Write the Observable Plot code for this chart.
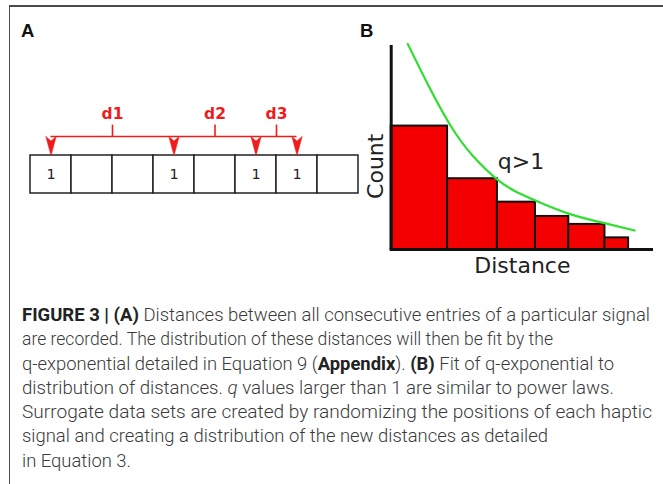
<!DOCTYPE html>
<html>
<head>
<meta charset="utf-8">
<script src="https://cdn.jsdelivr.net/npm/d3@7"></script>
<script src="https://cdn.jsdelivr.net/npm/@observablehq/plot@0.6"></script>
<style>
  html, body { margin: 0; padding: 0; background: #fff; }
  #root { position: relative; width: 663px; height: 484px; overflow: hidden; background: #fff; }
  .frame { position: absolute; left: 9px; top: 5px; width: 700px; height: 600px;
           border-top: 2px solid #4a4a4a; border-left: 1.5px solid #4a4a4a; }
  .panel { position: absolute; top: 0; }
  .plabel { position: absolute; font-family: "Liberation Sans", Arial, sans-serif; font-weight: bold;
            font-size: 18.5px; line-height: 18px; color: #111; }
  #caption { position: absolute; left: 22px; top: 303px; font-family: Roboto, "Liberation Sans", sans-serif;
             font-weight: 300; font-size: 17.5px; line-height: 24.3px; color: #3a3a3a; }
  #caption .ln { display: block; height: 24.3px; }
  #caption .ln span { display: inline-block; white-space: nowrap; transform-origin: 0 0; }
  #caption b { font-weight: bold; color: #222; }
</style>
</head>
<body>
<div id="root">
  <div class="frame"></div>
  <div class="plabel" style="left:21px; top:22px;">A</div>
  <div class="plabel" style="left:360px; top:22px;">B</div>
  <div id="panelA" class="panel" style="left:0px;"></div>
  <div id="panelB" class="panel" style="left:350px;"></div>
  <div id="caption">
    <div class="ln"><span data-w="628"><b>FIGURE 3 | (A)</b> Distances between all consecutive entries of a particular signal</span></div>
    <div class="ln"><span data-w="531">are recorded. The distribution of these distances will then be fit by the</span></div>
    <div class="ln"><span data-w="592">q-exponential detailed in Equation 9 (<b>Appendix</b>). <b>(B)</b> Fit of q-exponential to</span></div>
    <div class="ln"><span data-w="592">distribution of distances. <i>q</i> values larger than 1 are similar to power laws.</span></div>
    <div class="ln"><span data-w="630">Surrogate data sets are created by randomizing the positions of each haptic</span></div>
    <div class="ln"><span data-w="526">signal and creating a distribution of the new distances as detailed</span></div>
    <div class="ln"><span data-w="109">in Equation 3.</span></div>
  </div>
</div>
<script>
// ---------- Panel A data ----------
const cells = [1, 0, 0, 1, 0, 1, 1, 0];
const distLabels = ["d1", "d2", "d3"];

// ---------- Panel B data ----------
const binEdges = [0, 2.15, 4.05, 5.5, 6.77, 8.15, 9.05];
const binCounts = [6.05, 3.47, 2.32, 1.62, 1.23, 0.57];
const fitX = [0.63, 1.42, 2.26, 3.10, 4.05, 4.78, 5.50, 6.76, 8.13, 9.28];
const fitY = [10.08, 8.04, 6.08, 4.61, 3.43, 2.82, 2.40, 1.76, 1.29, 0.93];
const fitLabel = "q>1";
const xLabel = "Distance";
const yLabel = "Count";

const RED = "#f01c1c";
const INK = "#222";

// ----- Panel A: derived tables -----
const cellData = cells.map((v, i) => ({i, v}));
const events = cellData.filter(d => d.v === 1).map(d => d.i + 0.5);
const arrowPolys = events.flatMap((x, k) => [
  {k, x: x - 0.125, y: 1.5},
  {k, x: x, y: 1.38},
  {k, x: x + 0.125, y: 1.5},
  {k, x: x, y: 1.0},
  {k, x: x - 0.125, y: 1.5}
]);
const mids = distLabels.map((label, k) => ({label, x: (events[k] + events[k + 1]) / 2}));

const plotA = Plot.plot({
  width: 360, height: 290,
  marginLeft: 30, marginRight: 2, marginTop: 3, marginBottom: 97,
  x: {domain: [0, cells.length], axis: null},
  y: {domain: [0, 5], axis: null},
  style: {background: "transparent", overflow: "visible"},
  marks: [
    Plot.rect(cellData, {x1: d => d.i, x2: d => d.i + 1, y1: 0, y2: 1, fill: "white", stroke: INK, strokeWidth: 1.5}),
    Plot.text(cellData.filter(d => d.v), {x: d => d.i + 0.5, y: 0.5, text: d => String(d.v),
      fontSize: 14.5, fontFamily: "DejaVu Sans", fill: INK}),
    Plot.ruleY([1.5], {x1: events[0], x2: events[events.length - 1], stroke: RED, strokeWidth: 1.6}),
    Plot.ruleX(mids, {x: "x", y1: 1.5, y2: 1.8, stroke: RED, strokeWidth: 1.6}),
    Plot.line(arrowPolys, {x: "x", y: "y", z: "k", fill: RED, stroke: RED, strokeWidth: 0.6, curve: "linear"}),
    Plot.text(mids, {x: "x", y: 2.08, text: "label", fill: RED, fontWeight: "bold", fontSize: 15.5,
      fontFamily: "DejaVu Sans"})
  ]
});
document.getElementById("panelA").appendChild(plotA);

// ----- Panel B -----
const bins = binCounts.map((c, i) => ({x1: binEdges[i], x2: binEdges[i + 1], count: c}));
const fit = fitX.map((x, i) => ({x, y: fitY[i]}));

const plotB = Plot.plot({
  width: 313, height: 290,
  marginLeft: 40.7, marginRight: 10, marginTop: 45, marginBottom: 41,
  x: {domain: [0, 10], axis: null},
  y: {domain: [0, 10], axis: null},
  style: {background: "transparent", overflow: "visible"},
  marks: [
    Plot.rect(bins, {x1: "x1", x2: "x2", y1: 0, y2: "count", fill: "#f50000", stroke: "#111", strokeWidth: 2}),
    Plot.line(fit, {x: "x", y: "y", stroke: "#2ee02e", strokeWidth: 2.2, curve: "natural"}),
    Plot.ruleX([0], {y1: 0, y2: 10, stroke: "#111", strokeWidth: 3}),
    Plot.ruleY([0], {x1: -0.04, x2: 10, stroke: "#111", strokeWidth: 3}),
    Plot.text([fitLabel], {x: 4.95, y: 4.28, text: d => d, fontSize: 22, fontFamily: "DejaVu Sans", fill: INK}),
    Plot.text([yLabel], {x: -0.6, y: 4.08, text: d => d, rotate: -90, fontSize: 22, fontFamily: "DejaVu Sans", fill: INK}),
    Plot.text([xLabel], {frameAnchor: "bottom", dy: 16, lineAnchor: "middle", text: d => d, fontSize: 22,
      fontFamily: "DejaVu Sans", fill: INK})
  ]
});
document.getElementById("panelB").appendChild(plotB);

// ----- fit each caption line to the reference width -----
document.querySelectorAll("#caption .ln span").forEach(sp => {
  const w = sp.getBoundingClientRect().width;
  const target = +sp.dataset.w;
  sp.style.transform = `scaleX(${target / w})`;
});
</script>
</body>
</html>
